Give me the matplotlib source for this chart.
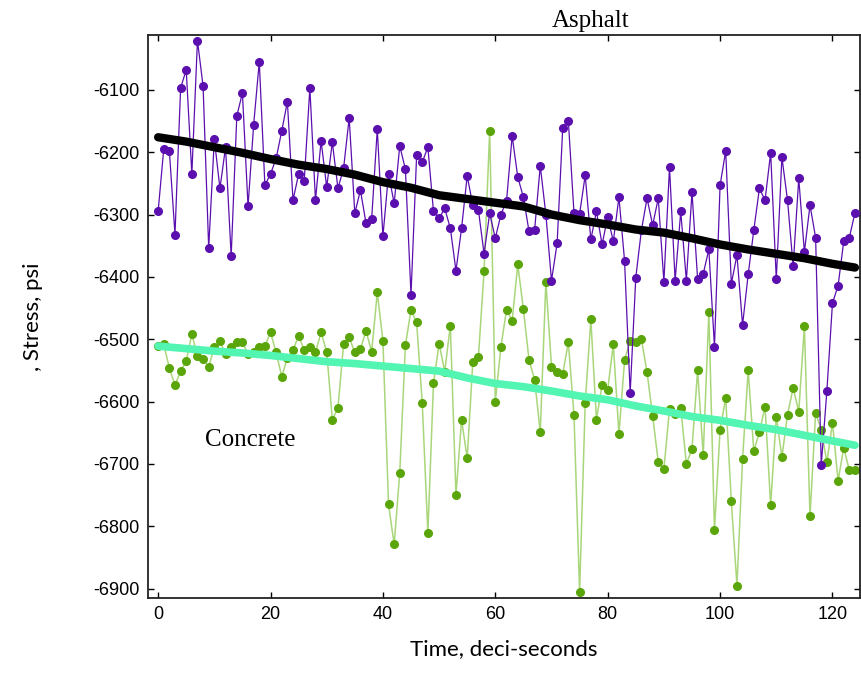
import matplotlib
matplotlib.use("Agg")
import matplotlib.pyplot as plt
import numpy as np

plt.rcParams['axes.unicode_minus'] = False

# Asphalt stress readings (purple), one per deci-second, t = 0..124
asphalt = [-6295, -6195, -6198, -6332, -6097, -6068, -6235, -6021, -6094, -6354,
           -6179, -6258, -6192, -6367, -6142, -6105, -6287, -6156, -6055, -6253,
           -6235, -6210, -6166, -6119, -6277, -6235, -6246, -6097, -6277, -6182,
           -6256, -6184, -6258, -6226, -6145, -6298, -6261, -6314, -6307, -6163,
           -6335, -6235, -6282, -6190, -6227, -6429, -6205, -6216, -6192, -6295,
           -6306, -6290, -6322, -6390, -6322, -6238, -6285, -6293, -6363, -6298,
           -6338, -6300, -6278, -6174, -6240, -6272, -6327, -6324, -6222, -6300,
           -6406, -6346, -6161, -6150, -6297, -6299, -6237, -6340, -6295, -6348,
           -6304, -6343, -6272, -6374, -6586, -6401, -6325, -6274, -6317, -6274,
           -6408, -6224, -6406, -6295, -6406, -6264, -6403, -6395, -6356, -6512,
           -6253, -6198, -6411, -6365, -6477, -6396, -6325, -6258, -6277, -6201,
           -6404, -6208, -6277, -6383, -6242, -6360, -6285, -6337, -6702, -6583,
           -6442, -6414, -6343, -6337, -6297]

# Concrete stress readings (green)
concrete = [-6511, -6508, -6546, -6574, -6551, -6535, -6492, -6527, -6532, -6544,
            -6513, -6503, -6524, -6513, -6505, -6505, -6524, -6520, -6513, -6511,
            -6489, -6521, -6560, -6530, -6518, -6494, -6518, -6512, -6521, -6489,
            -6520, -6629, -6610, -6508, -6497, -6521, -6515, -6487, -6520, -6425,
            -6502, -6765, -6829, -6714, -6510, -6453, -6473, -6602, -6811, -6570,
            -6507, -6552, -6478, -6750, -6629, -6691, -6536, -6528, -6391, -6166,
            -6600, -6512, -6453, -6470, -6380, -6452, -6533, -6565, -6649, -6408,
            -6544, -6553, -6555, -6505, -6621, -6905, -6602, -6468, -6629, -6573,
            -6581, -6508, -6652, -6534, -6502, -6505, -6500, -6553, -6623, -6697,
            -6708, -6612, -6620, -6610, -6700, -6676, -6550, -6686, -6457, -6806,
            -6645, -6594, -6760, -6895, -6692, -6550, -6679, -6649, -6608, -6766,
            -6624, -6689, -6621, -6578, -6616, -6479, -6784, -6618, -6645, -6697,
            -6634, -6727, -6674, -6710, -6710]

# smoothed trends, read every 5 deci-seconds
trend_t = [0, 5, 10, 15, 20, 25, 30, 35, 40, 45, 50, 55, 60, 65, 70, 75, 80, 85,
           90, 95, 100, 105, 110, 115, 120, 124]
asphalt_trend = [-6176, -6183, -6192, -6201, -6211, -6220, -6227, -6236, -6248,
                 -6257, -6269, -6275, -6281, -6287, -6300, -6309, -6316, -6324,
                 -6329, -6338, -6348, -6356, -6363, -6370, -6379, -6385]
concrete_trend = [-6511, -6515, -6519, -6522, -6526, -6531, -6536, -6539, -6543,
                  -6547, -6551, -6562, -6571, -6576, -6583, -6591, -6597, -6607,
                  -6615, -6624, -6630, -6638, -6645, -6654, -6663, -6670]

t = np.arange(len(asphalt))

fig = plt.figure(figsize=(8.62, 6.9), dpi=100)
ax = fig.add_axes([0.1717, 0.1333, 0.826, 0.816])

ax.plot(t, asphalt, color='#5B0FAE', lw=0.9, marker='o', ms=5.5, zorder=3)
ax.plot(t, concrete, color='#A9D67A', lw=1.1, zorder=2)
ax.plot(t, concrete, ls='none', marker='o', ms=5.5, color='#5AA60A', zorder=2)
ax.plot(trend_t, asphalt_trend, color='black', lw=6, solid_capstyle='round', zorder=4)
ax.plot(trend_t, concrete_trend, color='#52F5B2', lw=5.5, solid_capstyle='round', zorder=4)

ax.set_xlim(-1.8, 124.9)
ax.set_ylim(-6915, -6012)
ax.set_xticks(np.arange(0, 121, 20))
ax.set_yticks(np.arange(-6900, -6099, 100))
ax.tick_params(direction='in', top=True, right=True, length=4, width=1,
               labelsize=13, pad=6)
for lab in ax.get_xticklabels() + ax.get_yticklabels():
    lab.set_family('Liberation Sans')
for s in ax.spines.values():
    s.set_linewidth(1.3)
    s.set_color('#222222')

ax.set_xlabel('Time, deci-seconds', fontsize=16, family='Lato', labelpad=11)
ax.set_ylabel(', Stress, psi', fontsize=16, family='Lato', labelpad=36)

ax.text(77, -5990, 'Asphalt', fontsize=18, family='Liberation Serif',
        ha='center', va='center', clip_on=False)
ax.text(8.4, -6662, 'Concrete', fontsize=18, family='Liberation Serif',
        ha='left', va='center')

fig.savefig('out.png', dpi=100)
